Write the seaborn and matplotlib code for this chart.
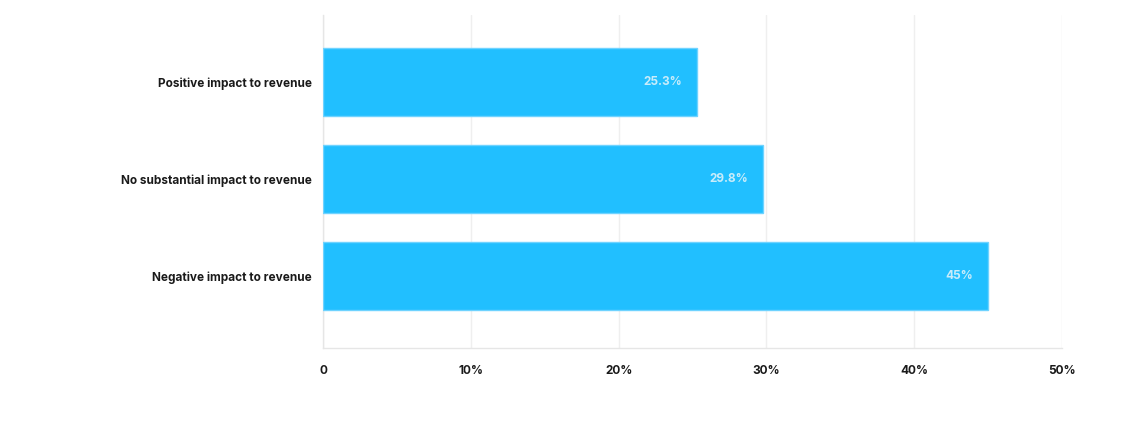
import pandas as pd
import seaborn as sns
import matplotlib.pyplot as plt
from matplotlib.ticker import FuncFormatter

# Data
categories = ['Positive impact to revenue',
              'No substantial impact to revenue',
              'Negative impact to revenue']
shares = [25.3, 29.8, 45.0]
value_labels = ['25.3%', '29.8%', '45%']

df = pd.DataFrame({'Impact': categories, 'Share': shares})

sns.set_style('white')
plt.rcParams['font.family'] = ['Inter', 'DejaVu Sans']

fig = plt.figure(figsize=(11.31, 4.43), dpi=100)
ax = fig.add_axes([0.2856, 0.2144, 0.6534, 0.7516])

sns.barplot(data=df, x='Share', y='Impact', color='#21bfff', saturation=1,
            width=0.70, edgecolor='#6fd3ff', linewidth=1, ax=ax, zorder=3)

# value labels sit inside the bar end, right aligned
texts = ax.bar_label(ax.containers[0], labels=value_labels, padding=-11,
                     color='#c8ecfa', fontsize=8.5, fontweight='bold')
for t in texts:
    t.set_ha('right')

ax.set_xlim(0, 50)
ax.set_ylim(2.74, -0.69)
ax.set_xticks([0, 10, 20, 30, 40, 50])
ax.xaxis.set_major_formatter(FuncFormatter(lambda v, p: '0' if v == 0 else f'{v:.0f}%'))
ax.grid(axis='x', color='#efefef', linewidth=1, zorder=0)
ax.set_axisbelow(True)

ax.set_yticks([0.5, 1.5, -0.69, 2.74], minor=True)
ax.tick_params(axis='y', which='major', length=0, pad=8, labelsize=8.5)
ax.tick_params(axis='y', which='minor', length=5, direction='in', color='#e2e2e2')
ax.tick_params(axis='x', length=6.5, color='#e2e2e2', labelsize=8.5, pad=6)
for lbl in ax.get_yticklabels() + ax.get_xticklabels():
    lbl.set_fontweight('bold')
    lbl.set_color('#1a1a1a')

for side in ['top', 'right']:
    ax.spines[side].set_visible(False)
for side in ['left', 'bottom']:
    ax.spines[side].set_color('#e6e6e6')
    ax.spines[side].set_linewidth(1)

ax.set_xlabel('')
ax.set_ylabel('')

fig.savefig('out.png', dpi=100)
